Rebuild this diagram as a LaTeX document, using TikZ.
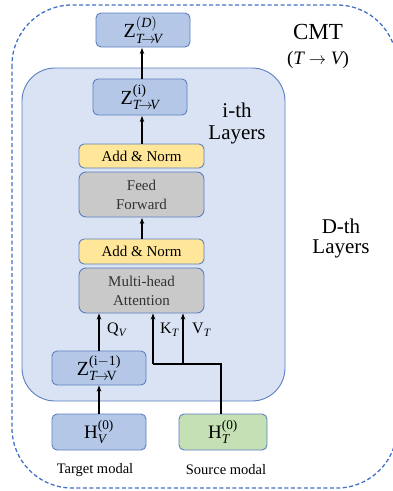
\documentclass[tikz,border=0pt]{standalone}
\usepackage{amsmath}
\usepackage{fontspec}
\setmainfont{Liberation Serif}
\usetikzlibrary{arrows.meta}
\definecolor{dashblue}{HTML}{4472C4}
\definecolor{innerfill}{HTML}{DAE3F3}
\definecolor{boxblue}{HTML}{B4C7E7}
\definecolor{boxedge}{HTML}{5B7FC0}
\definecolor{yel}{HTML}{FFE699}
\definecolor{gry}{HTML}{C9C9C9}
\definecolor{grn}{HTML}{C5E0B4}
\tikzset{
  zbox/.style={draw=boxedge, fill=boxblue, rounded corners=5pt, line width=0.9pt, inner sep=0pt, font=\fontsize{20}{22}\selectfont},
  anbox/.style={draw=boxedge, fill=yel, rounded corners=5pt, line width=0.9pt, inner sep=0pt, minimum width=125pt, font=\fontsize{15}{17}\selectfont},
  graybox/.style={draw=boxedge, fill=gry, rounded corners=7pt, line width=0.9pt, inner sep=0pt, minimum width=125pt, minimum height=45pt, align=center, font=\fontsize{15}{19}\selectfont, text=black!80},
  arr/.style={-{Stealth[length=6pt,width=4.5pt]}, line width=1.4pt},
  plain/.style={line width=1.4pt},
  lbl/.style={font=\fontsize{21}{23}\selectfont, align=center},
  small/.style={font=\fontsize{14.5}{16}\selectfont},
  qkv/.style={font=\fontsize{16}{18}\selectfont, anchor=west, inner sep=0pt}
}
\newcommand{\ttv}{\textit{T}\!\rightarrow\!\textit{V}}
\newcommand{\ttvr}{\textit{T}\!\rightarrow\!\text{V}}
\begin{document}
\begin{tikzpicture}[x=1pt,y=-1pt]
\useasboundingbox (0,0) rectangle (393,491);
\clip (0,0) rectangle (393,491);
% outer dashed box
\draw[dashblue, dashed, line width=1.3pt, dash pattern=on 4pt off 2.5pt, rounded corners=60pt] (12,5) rectangle (397,488);
% inner layer box
\draw[boxedge, fill=innerfill, line width=0.9pt, rounded corners=33pt] (22,68) rectangle (285,401);
% boxes
\node[zbox, minimum width=94pt, minimum height=34pt] (ZD) at (143,30) {Z$^{(\textit{D})}_{\ttv}$};
\node[zbox, minimum width=94pt, minimum height=36pt] (Zi) at (140,97) {Z$^{\text{(i)}}_{\ttv}$};
\node[anbox, minimum height=24pt] (AN1) at (141.5,156) {Add \& Norm};
\node[graybox] (FF) at (141.5,194.5) {Feed\\Forward};
\node[anbox, minimum height=25pt] (AN2) at (141.5,251.5) {Add \& Norm};
\node[graybox] (MHA) at (141.5,290.5) {Multi-head\\Attention};
\node[zbox, minimum width=94pt, minimum height=34pt] (Zi1) at (99,368) {Z$^{\text{(i$-$1)}}_{\ttvr}$};
\node[zbox, minimum width=94pt, minimum height=36pt, font=\fontsize{19}{21}\selectfont] (HV) at (99,432) {H$^{\text{(0)}}_{\textit{V}}$};
\node[zbox, fill=grn, minimum width=88pt, minimum height=36pt, font=\fontsize{19}{21}\selectfont] (HT) at (223,432) {H$^{\text{(0)}}_{\textit{T}}$};
% coordinates
\coordinate (kb) at (153,364);
\coordinate (vb) at (183,364);
\coordinate (tb) at (221,364);
% arrows
\draw[arr] (142,79) -- (142,48) coordinate (zdtip);
\draw[arr] (AN1.north -| 142,0) -- (142,116);
\draw[arr] (AN2.north -| 142,0) -- (142,218);
\draw[arr] (HV.north) -- (HV.north |- Zi1.south);
\draw[arr] (Zi1.north) -- (Zi1.north |- MHA.south);
\draw[plain] (HT.north -| tb) -- (tb) -- (kb);
\draw[arr] (kb) -- (kb |- MHA.south);
\draw[arr] (vb) -- (vb |- MHA.south);
% labels
\node[qkv] (Q) at (107,330) {Q$_{\textit{V}}$};
\node[qkv] (K) at (160,330) {K$_{\textit{T}}$};
\node[qkv] (V) at (192,330) {V$_{\textit{T}}$};
\node[lbl, font=\fontsize{23}{25}\selectfont] (cmt) at (318,32) {CMT};
\node[lbl, font=\fontsize{19}{21}\selectfont] (tv) at (318,60) {($\textit{T}\rightarrow\textit{V}$)};
\node[lbl] (ith) at (237,110) {i-th};
\node[lbl] (il) at (237,135) {Layers};
\node[lbl] (dth) at (341,226) {D-th};
\node[lbl] (dl) at (341,249) {Layers};
\node[small] (tm) at (95,470) {Target modal};
\node[small] (sm) at (226,470) {Source modal};
\end{tikzpicture}
\end{document}
